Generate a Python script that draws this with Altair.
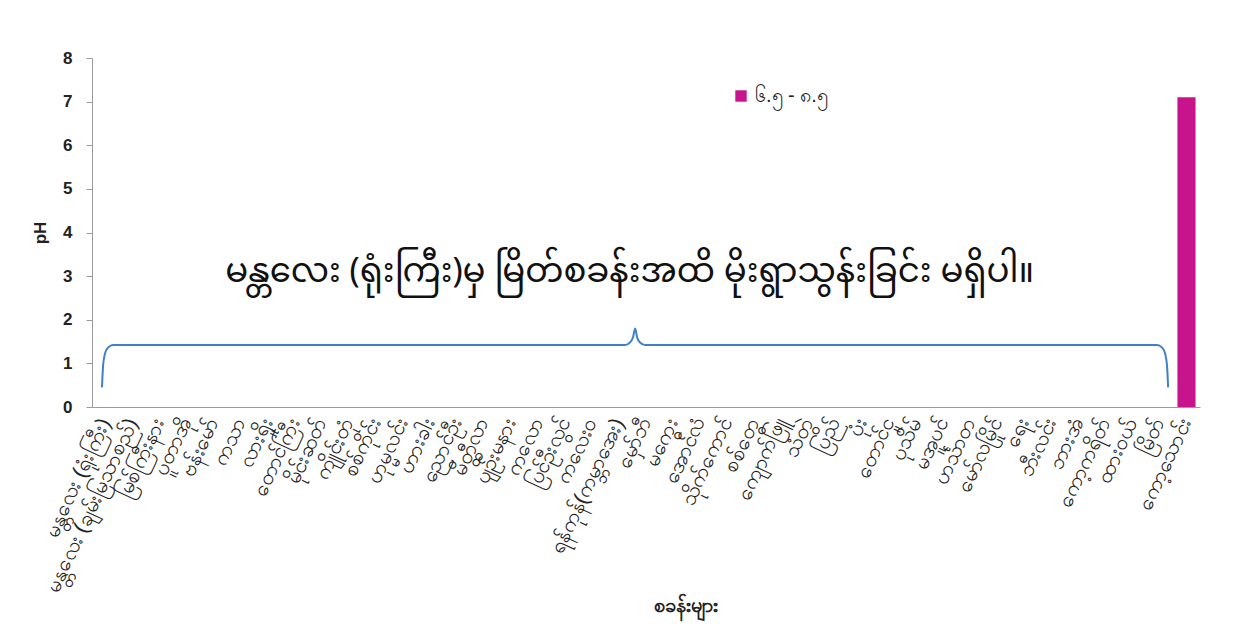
import altair as alt
import pandas as pd

stations = [
    "မန္တလေး (ရုံးကြီး)", "မန္တလေး (ချမ်းမြသာစည်)", "မြစ်ကြီးနား", "ပူတာအို", "ဗန်းမော်",
    "ကသာ", "လားရှိုး", "တောင်ကြီး", "မိုင်းဆတ်", "ကျိုင်းတုံ",
    "စစ်ကိုင်း", "ဟုမ္မလင်း", "ဟားခါး", "ညောင်ဦး", "မိတ္ထီလာ",
    "ပျဉ်းမနား", "ကလော", "ပြင်ဦးလွင်", "ကလေးဝ", "ရန်ကုန်(ကမ္ဘာအေး)",
    "မှော်ဘီ", "မကွေး", "အောင်လံ", "သိုက်ကောင်", "စစ်တွေ",
    "ကျောက်ဖြူ", "သံတွဲ", "ပြည်", "ပုံး", "တောင်ငူ",
    "ပုသိမ်", "မအူပင်", "ဟင်္သာတ", "မော်လမြိုင်", "ရေး",
    "ဘီးလင်း", "ဘားအံ", "ကော့ကရိတ်", "ထားဝယ်", "မြိတ်",
    "ကော့သောင်း",
]
ph_values = [
    None, None, None, None, None, None, None, None, None, None,
    None, None, None, None, None, None, None, None, None, None,
    None, None, None, None, None, None, None, None, None, None,
    None, None, None, None, None, None, None, None, None, None,
    7.1,
]
legend_label = "၆.၅ - ၈.၅"
y_ticks = [0, 1, 2, 3, 4, 5, 6, 7, 8]

# curly brace annotation (x in category-index units, y in pH units)
brace_x = [0.37, 0.41, 0.48, 0.59, 0.78, 19.73, 19.91, 20.02, 20.10, 20.17, 20.28, 20.47,
           39.41, 39.60, 39.71, 39.78, 39.82]
brace_y = [0.45, 0.95, 1.22, 1.36, 1.42, 1.42, 1.48, 1.60, 1.80, 1.60, 1.48, 1.42,
           1.42, 1.36, 1.22, 0.95, 0.45]
note_text = "မန္တလေး (ရုံးကြီး)မှ မြိတ်စခန်းအထိ မိုးရွာသွန်းခြင်း မရှိပါ။"
note_x = [19.9]
note_y = [3.1]

bars_df = pd.DataFrame({"station": stations, "ph": ph_values, "range": [legend_label] * len(stations)})
brace_df = pd.DataFrame({"bx": brace_x, "by": brace_y, "order": list(range(len(brace_x)))})
note_df = pd.DataFrame({"nx": note_x, "ny": note_y, "label": [note_text]})

y_scale = alt.Scale(domain=[0, 8], nice=False, zero=True)

bars = alt.Chart(bars_df).transform_filter(
    "isValid(datum.ph)"
).mark_bar(color="#C8148C").encode(
    x=alt.X(
        "station:N",
        sort=stations,
        scale=alt.Scale(domain=stations, paddingInner=0.33, paddingOuter=0.165),
        axis=alt.Axis(
            title="စခန်းများ",
            labelAngle=-65,
            labelFontSize=21,
            labelColor="#222222",
            labelLimit=400,
            labelOverlap=False,
            labelPadding=12,
            ticks=False,
            domainColor="#9a9a9a",
            titleFontSize=20,
            titleFontWeight="bold",
            titleColor="#222222",
            titleX=593,
            titleY=198,
            titleBaseline="middle",
        ),
    ),
    y=alt.Y(
        "ph:Q",
        scale=y_scale,
        axis=alt.Axis(
            title="pH",
            values=y_ticks,
            grid=False,
            labelFontSize=17,
            labelFontWeight="bold",
            labelColor="#222222",
            labelPadding=14,
            tickColor="#9a9a9a",
            tickSize=6,
            domainColor="#9a9a9a",
            titleFontSize=17,
            titleFontWeight="bold",
            titleColor="#222222",
            titlePadding=13,
        ),
    ),
    fill=alt.Fill(
        "range:N",
        scale=alt.Scale(domain=[legend_label], range=["#C8148C"]),
        legend=alt.Legend(
            title=None,
            orient="none",
            legendX=639,
            legendY=28,
            symbolType="square",
            symbolSize=130,
            symbolStrokeWidth=0,
            labelFontSize=20,
            labelColor="#222222",
        ),
    ),
)

brace = alt.Chart(brace_df).mark_line(
    color="#3F80C6", strokeWidth=2, interpolate="monotone"
).encode(
    x=alt.X("bx:Q", scale=alt.Scale(domain=[0, 41], nice=False, zero=False), axis=None),
    y=alt.Y("by:Q", scale=y_scale),
    order="order:Q",
)

note = alt.Chart(note_df).mark_text(
    fontSize=34, color="#111111", align="center", baseline="middle",
    font="Noto Sans Myanmar, Padauk, Myanmar Text, Noto Sans",
).encode(
    x=alt.X("nx:Q", scale=alt.Scale(domain=[0, 41], nice=False, zero=False), axis=None),
    y=alt.Y("ny:Q", scale=y_scale),
    text="label:N",
)

chart = alt.layer(bars, brace, note).resolve_scale(x="independent").properties(
    width=1108,
    height=349,
    padding={"left": 92, "top": 58, "right": 50, "bottom": 234},
    autosize=alt.AutoSizeParams(type="none"),
    background="white",
).configure_view(stroke=None).configure_axis(labelFont="Liberation Sans", titleFont="Liberation Sans").configure_legend(labelFont="Liberation Sans")

chart.save("out.html", embed_options={"renderer": "svg", "actions": False})
